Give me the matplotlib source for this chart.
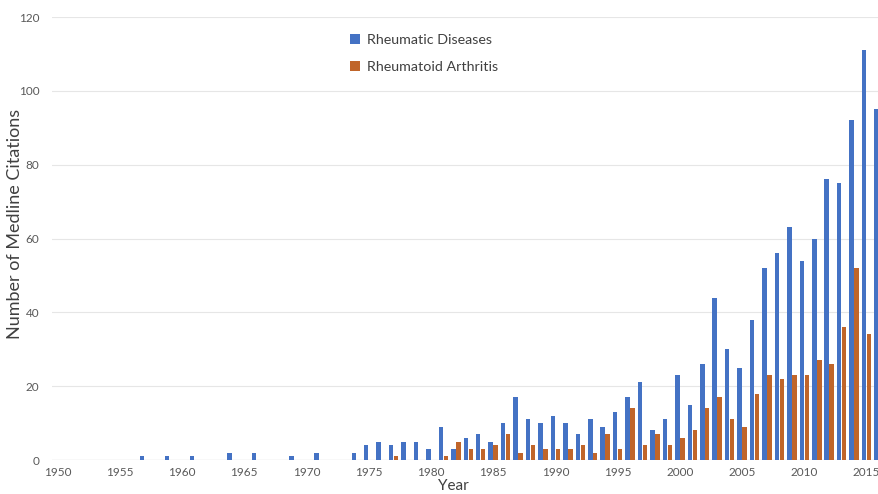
import numpy as np
import matplotlib
matplotlib.use("Agg")
import matplotlib.pyplot as plt

years = list(range(1950, 2017))
rheumatic = {1957: 1, 1959: 1, 1961: 1, 1964: 2, 1966: 2, 1969: 1, 1971: 2,
             1974: 2, 1975: 4, 1976: 5, 1977: 4, 1978: 5, 1979: 5, 1980: 3,
             1981: 9, 1982: 3, 1983: 6, 1984: 7, 1985: 5, 1986: 10, 1987: 17,
             1988: 11, 1989: 10, 1990: 12, 1991: 10, 1992: 7, 1993: 11, 1994: 9,
             1995: 13, 1996: 17, 1997: 21, 1998: 8, 1999: 11, 2000: 23, 2001: 15,
             2002: 26, 2003: 44, 2004: 30, 2005: 25, 2006: 38, 2007: 52, 2008: 56,
             2009: 63, 2010: 54, 2011: 60, 2012: 76, 2013: 75, 2014: 92, 2015: 111,
             2016: 95}
arthritis = {1977: 1, 1981: 1, 1982: 5, 1983: 3, 1984: 3, 1985: 4, 1986: 7,
             1987: 2, 1988: 4, 1989: 3, 1990: 3, 1991: 3, 1992: 4, 1993: 2,
             1994: 7, 1995: 3, 1996: 14, 1997: 4, 1998: 7, 1999: 4, 2000: 6,
             2001: 8, 2002: 14, 2003: 17, 2004: 11, 2005: 9, 2006: 18, 2007: 23,
             2008: 22, 2009: 23, 2010: 23, 2011: 27, 2012: 26, 2013: 36, 2014: 52,
             2015: 34}
rd_values = [rheumatic.get(y, 0) for y in years]
ra_values = [arthritis.get(y, 0) for y in years]
tick_years = list(range(1950, 2016, 5))

plt.rcParams['font.family'] = ['Lato', 'DejaVu Sans']

fig = plt.figure(figsize=(8.79, 4.94), dpi=100)
ax = fig.add_axes([52/879, 34/494, 1 - 52/879, (460-17)/494])

x = np.array(years, dtype=float)
w = 0.36
ax.bar(x - 0.2, rd_values, width=w, color='#4472C4', label='Rheumatic Diseases', zorder=3)
ax.bar(x + 0.2, ra_values, width=w, color='#C0652A', label='Rheumatoid Arthritis', zorder=3)

ax.set_xlim(1949.55, 2016.0)
ax.set_ylim(0, 120)
ax.set_yticks(range(0, 121, 20))
ax.set_xticks(tick_years)
ax.set_xticklabels([str(t) for t in tick_years])
ax.tick_params(axis='both', length=0, labelsize=8.5, labelcolor='#595959')
ax.tick_params(axis='x', pad=5)
ax.tick_params(axis='y', pad=9)
ax.grid(axis='y', color='#E6E6E6', linewidth=0.8, zorder=0)
for s in ax.spines.values():
    s.set_visible(False)
ax.axhline(0, color='#D9D9D9', linewidth=0.9, zorder=2)

ax.set_ylabel('Number of Medline Citations', fontsize=13, color='#404040')
ax.yaxis.set_label_coords(-29/827, (460 - 224) / 443)
ax.set_xlabel('Year', fontsize=11, color='#404040')
ax.xaxis.set_label_coords((453 - 52) / 827, -19/443)

leg = ax.legend(loc='upper left', bbox_to_anchor=(0.345, 0.99), frameon=False,
                fontsize=10.3, labelcolor='#404040', handlelength=0.7, handleheight=0.7,
                handletextpad=0.5, labelspacing=1.0)

fig.savefig('out.png', dpi=100, facecolor='white')
